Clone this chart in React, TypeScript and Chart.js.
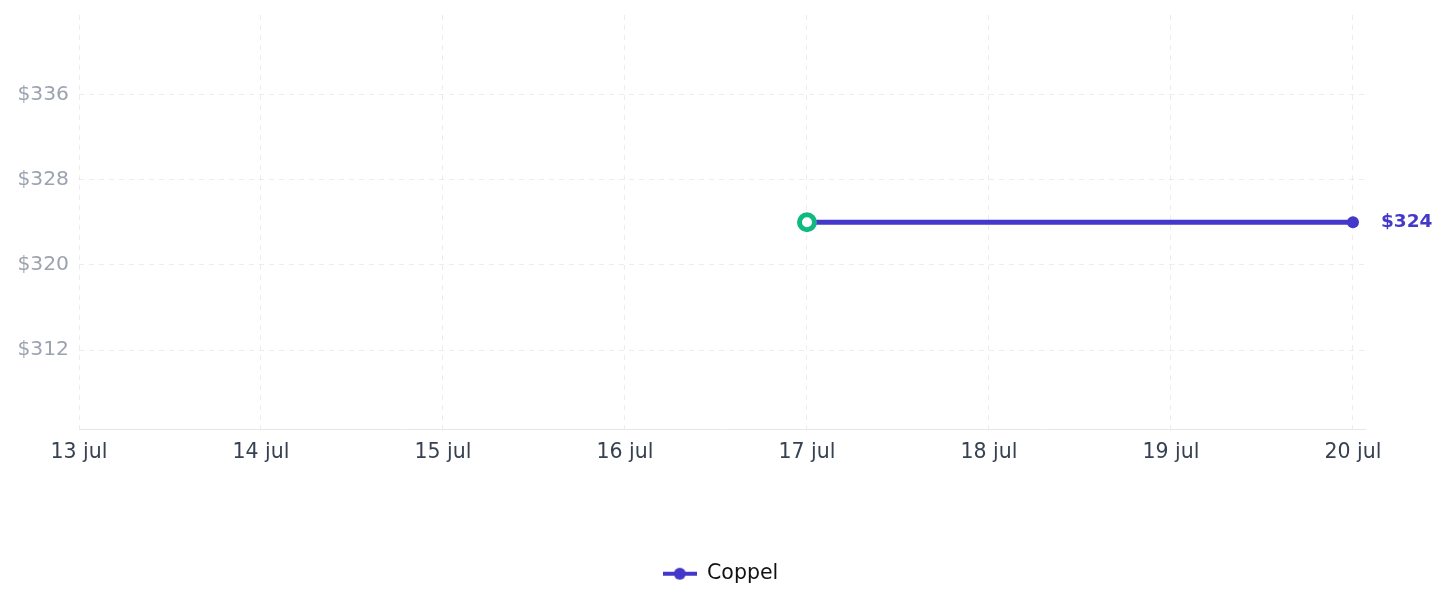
import React, { useEffect, useRef } from "react";
import { Chart, registerables } from "chart.js";

Chart.register(...registerables);

const dayLabels = ["13 jul", "14 jul", "15 jul", "16 jul", "17 jul", "18 jul", "19 jul", "20 jul"];
const pointDays = [4, 7];
const coppelPrices = [324, 324];
const yTicks = [312, 320, 328, 336];
const seriesName = "Coppel";

const PURPLE = "#4338ca";
const GREEN = "#10b981";
const FONT = "'DejaVu Sans', sans-serif";

function makeLegendIcon(): HTMLCanvasElement {
  const c = document.createElement("canvas");
  c.width = 34;
  c.height = 14;
  const ctx = c.getContext("2d")!;
  ctx.strokeStyle = PURPLE;
  ctx.lineWidth = 4;
  ctx.beginPath();
  ctx.moveTo(0, 7);
  ctx.lineTo(34, 7);
  ctx.stroke();
  ctx.fillStyle = PURPLE;
  ctx.beginPath();
  ctx.arc(17, 7, 6, 0, Math.PI * 2);
  ctx.fill();
  return c;
}

const lastLabelPlugin = {
  id: "lastLabel",
  afterLayout(chart: any) {
    if (chart.legend) {
      chart.legend.left = 0;
      chart.legend.right = chart.width - 6;
    }
  },
  afterDatasetsDraw(chart: any) {
    const meta = chart.getDatasetMeta(0);
    const pts = meta.data;
    if (!pts.length) return;
    const p = pts[pts.length - 1];
    const v = coppelPrices[coppelPrices.length - 1];
    const ctx = chart.ctx;
    ctx.save();
    ctx.font = `bold 18.5px ${FONT}`;
    ctx.fillStyle = PURPLE;
    ctx.textAlign = "left";
    ctx.textBaseline = "middle";
    ctx.fillText(`$${v}`, p.x + 28, p.y);
    ctx.restore();
  },
};

export default function App() {
  const ref = useRef<HTMLCanvasElement>(null);
  useEffect(() => {
    if (!ref.current) return;
    const data = pointDays.map((d, i) => ({ x: d, y: coppelPrices[i] }));
    const chart = new Chart(ref.current, {
      type: "line",
      data: {
        datasets: [
          {
            label: seriesName,
            data,
            borderColor: PURPLE,
            backgroundColor: PURPLE,
            borderWidth: 5,
            pointRadius: data.map((_, i) => (i === 0 ? 7.5 : 6)),
            pointBackgroundColor: data.map((_, i) => (i === 0 ? "#ffffff" : PURPLE)),
            pointBorderColor: data.map((_, i) => (i === 0 ? GREEN : PURPLE)),
            pointBorderWidth: data.map((_, i) => (i === 0 ? 5 : 0)),
            pointStyle: "circle",
          },
        ],
      },
      options: {
        animation: false,
        responsive: true,
        maintainAspectRatio: false,
        layout: { autoPadding: false, padding: { top: 7, right: 74, bottom: 5, left: 0 } },
        plugins: {
          legend: {
            position: "bottom",
            labels: {
              usePointStyle: true,
              pointStyle: makeLegendIcon() as any,
              pointStyleWidth: 34,
              padding: 10,
              color: "#111111",
              font: { family: FONT, size: 20.5 },
            },
          },
          tooltip: { enabled: false },
        },
        scales: {
          x: {
            type: "linear",
            min: 0,
            max: 7.066,
            afterBuildTicks: (scale: any) => {
              scale.ticks = dayLabels.map((_, i) => ({ value: i }));
            },
            afterFit: (scale: any) => {
              scale.height = 124;
            },
            ticks: {
              callback: (v: any) => dayLabels[v] ?? "",
              color: "#374151",
              font: { family: FONT, size: 20.5 },
              padding: 11,
              maxRotation: 0,
              autoSkip: false,
            },
            grid: {
              color: "rgba(0,0,0,0.07)",
              drawTicks: false,
            },
            border: { color: "#e5e7eb", width: 1, dash: [5, 5] as any },
          },
          y: {
            min: 324 * 0.94,
            max: 324 * 1.06,
            afterBuildTicks: (scale: any) => {
              scale.ticks = yTicks.map((v) => ({ value: v }));
            },
            afterFit: (scale: any) => {
              scale.width = 71;
              scale.paddingTop = 0;
              scale.paddingBottom = 0;
            },
            ticks: {
              callback: (v: any) => `$${v}`,
              color: "#9ca3af",
              font: { family: FONT, size: 20.3 },
              padding: 10,
            },
            grid: {
              color: "rgba(0,0,0,0.07)",
              drawTicks: false,
            },
            border: { display: false, dash: [5, 5] as any },
          },
        },
      },
      plugins: [lastLabelPlugin],
    });
    return () => chart.destroy();
  }, []);
  return (
    <div style={{ width: "100%", height: 591, position: "relative" }}>
      <canvas ref={ref} />
    </div>
  );
}
